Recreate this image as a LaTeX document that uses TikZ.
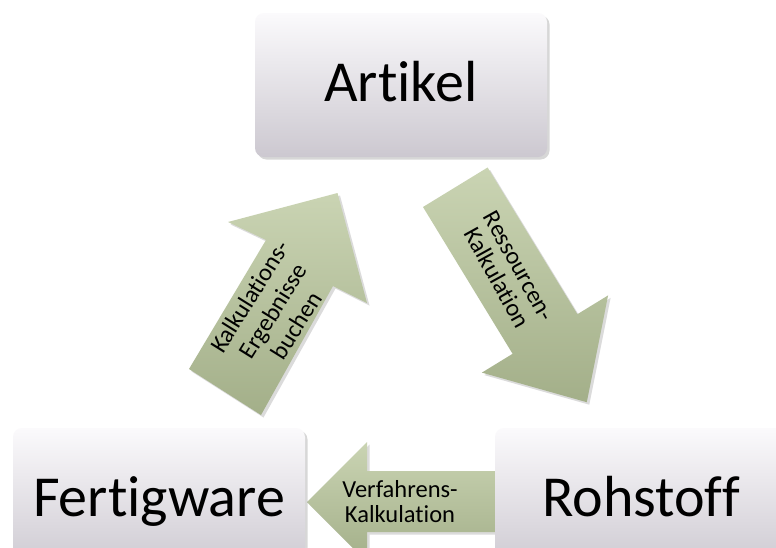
\documentclass[tikz,border=0pt]{standalone}
\usepackage{fontspec}
\setmainfont{Carlito}[Ligatures={NoCommon}]
\usetikzlibrary{shadows}
\definecolor{boxtop}{RGB}{251,250,252}
\definecolor{boxbot}{RGB}{204,200,208}
\definecolor{arrtop}{RGB}{202,212,179}
\definecolor{arrbot}{RGB}{163,175,137}
\tikzset{
  entity/.style={rounded corners=9pt, minimum width=292pt, minimum height=144pt,
    top color=boxtop, bottom color=boxbot,
    drop shadow={shadow xshift=2.5pt, shadow yshift=-2.5pt, opacity=.22, fill=black!70},
    font=\fontsize{58}{62}\selectfont, text height=32pt, text depth=0pt, inner sep=0pt},
  flow/.style={top color=arrtop, bottom color=arrbot,
    drop shadow={shadow xshift=2.5pt, shadow yshift=-2.5pt, opacity=.2, fill=black!70}},
  flowtxt/.style={font=\fontsize{24.5}{25}\selectfont, align=center, inner sep=0pt},
  flowtxtbig/.style={font=\fontsize{24.5}{27.5}\selectfont, align=center, inner sep=0pt}
}
\begin{document}
\begin{tikzpicture}[x=1pt,y=-1pt]
\useasboundingbox (0,0) rectangle (776,547);
\clip (0,0) rectangle (776,547);
\fill[white] (0,0) rectangle (776,547);

% up-left arrow
\coordinate (u1) at (189,369);
\coordinate (u2) at (266,240);
\coordinate (u3) at (228,222);
\coordinate (u4) at (337.5,193);
\coordinate (u5) at (367,303);
\coordinate (u6) at (333,286);
\coordinate (u7) at (261,415);
\path[flow] (u1) -- (u2) -- (u3) -- (u4) -- (u5) -- (u6) -- (u7) -- cycle;
\node[flowtxtbig, rotate=58] (tup) at (273,311) {Kalkulations-\\Ergebnisse\\buchen};

% down-right arrow
\coordinate (d1) at (423,207);
\coordinate (d2) at (512.6,353.8);
\coordinate (d3) at (481.9,372.6);
\coordinate (d4) at (586.8,402.2);
\coordinate (d5) at (608.1,295.4);
\coordinate (d6) at (577.4,314.2);
\coordinate (d7) at (487.6,167.5);
\path[flow] (d1) -- (d2) -- (d3) -- (d4) -- (d5) -- (d6) -- (d7) -- cycle;
\node[flowtxt, rotate=-61] (tdown) at (508,272) {Ressourcen-\\Kalkulation};

% bottom arrow (left)
\coordinate (b1) at (307,502);
\coordinate (b2) at (367,442);
\coordinate (b3) at (367,471);
\coordinate (b4) at (510,471);
\coordinate (b5) at (510,532);
\coordinate (b6) at (367,532);
\coordinate (b7) at (367,562);
\path[flow] (b1) -- (b2) -- (b3) -- (b4) -- (b5) -- (b6) -- (b7) -- cycle;
\node[flowtxt] (tbot) at (400,502) {Verfahrens-\\Kalkulation};

% boxes
\node[entity] (artikel) at (401,85) {Artikel};
\node[entity] (fertig) at (159,500) {Fertigware};
\node[entity] (rohstoff) at (641,500) {Rohstoff};
\end{tikzpicture}
\end{document}
